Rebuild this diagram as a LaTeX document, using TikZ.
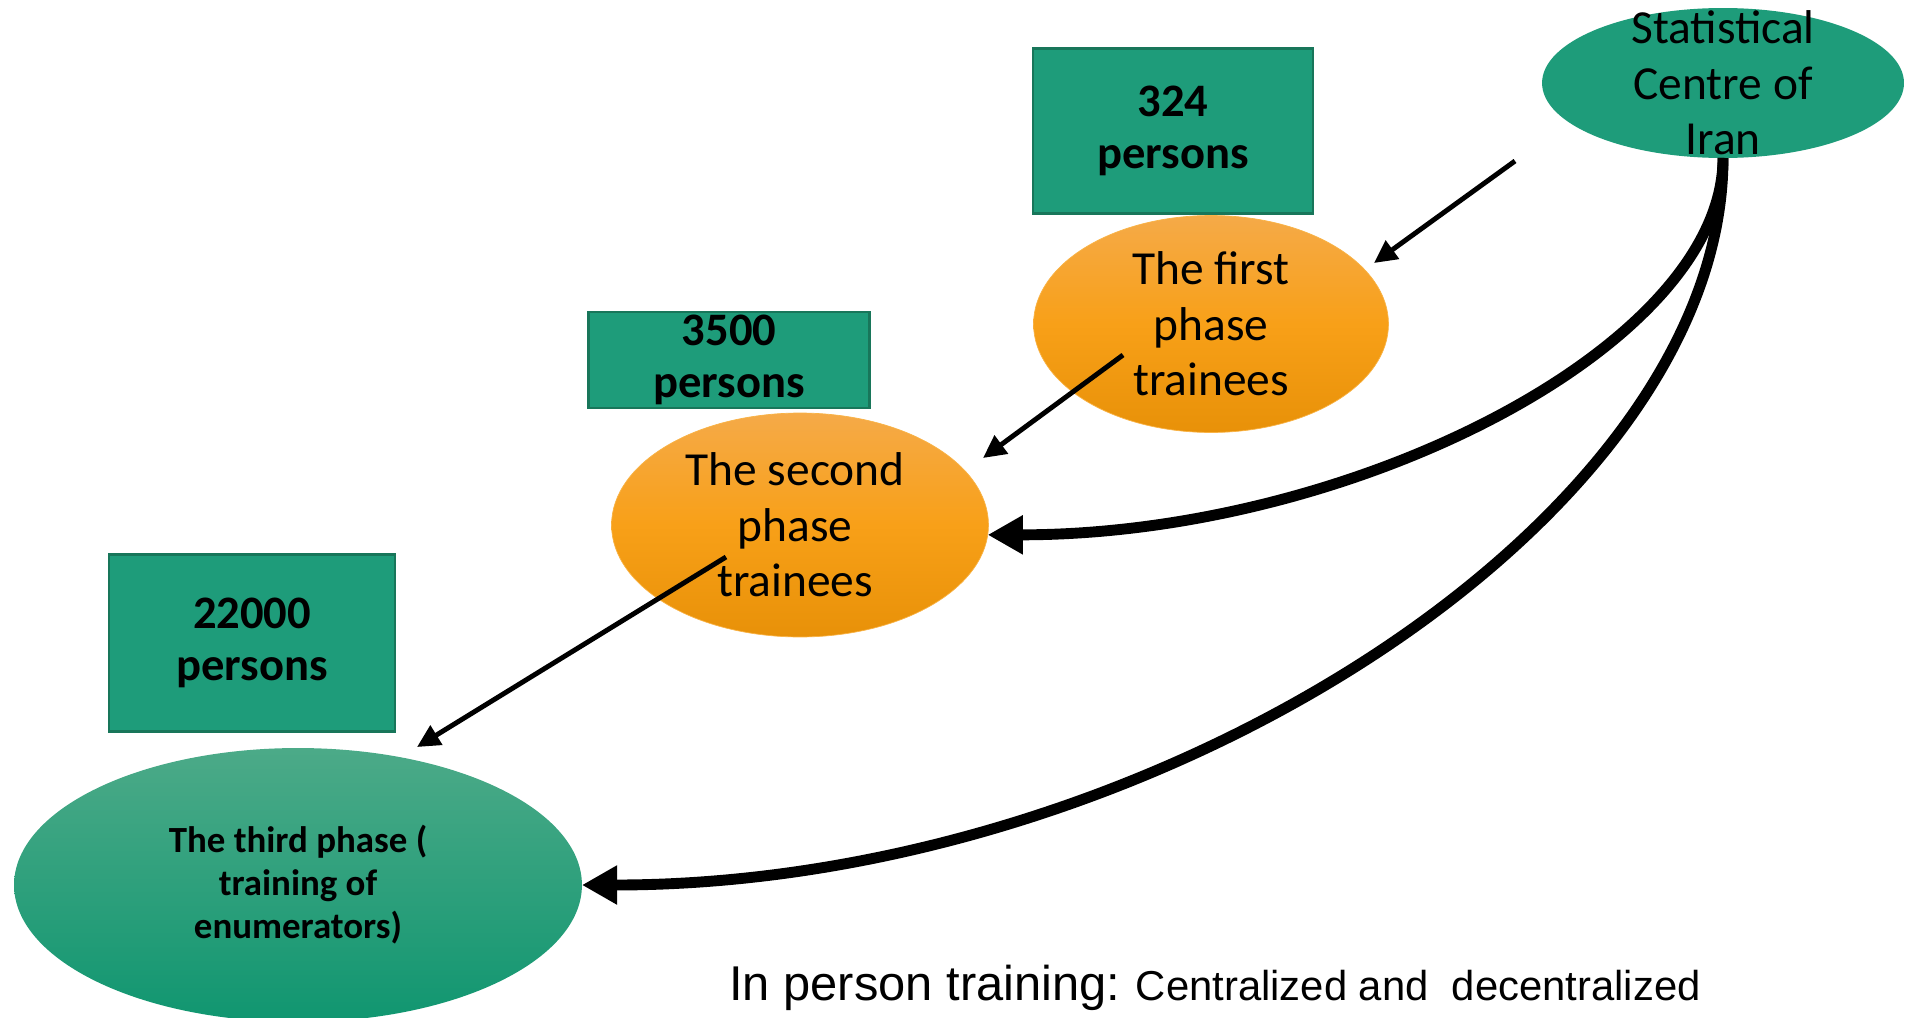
\documentclass[tikz,border=0pt]{standalone}
\usepackage{fontspec}
\setmainfont{Carlito}
\newfontfamily\arialfont{Liberation Sans}
\usetikzlibrary{arrows.meta,shapes.geometric}
\definecolor{tealfill}{RGB}{30,156,122}
\definecolor{tealline}{RGB}{24,118,90}
\definecolor{orangetop}{RGB}{245,170,72}
\definecolor{orangemid}{RGB}{248,160,24}
\definecolor{orangebot}{RGB}{232,145,8}
\definecolor{greentop}{RGB}{76,170,136}
\definecolor{greenbot}{RGB}{16,150,112}

\begin{document}
\begin{tikzpicture}[x=0.02cm,y=-0.02cm,
  countbox/.style = {rectangle,draw=tealline,fill=tealfill,line width=1.2pt,inner sep=0pt,outer sep=0pt,align=center,font=\bfseries\fontsize{26.5}{29.5}\selectfont},
  bubble/.style = {ellipse,inner sep=0pt,outer sep=0pt},
  phasebubble/.style = {bubble,draw=orangemid!80,top color=orangetop,bottom color=orangebot,middle color=orangemid},
  bubbletext/.style = {align=center,font=\fontsize{27}{31.6}\selectfont},
  thinarrow/.style = {line width=2.8pt,-{Triangle[length=13pt,width=12.5pt]}},
  thickarrow/.style = {line width=6.2pt,-{Triangle[length=20pt,width=21pt]}}]
\useasboundingbox (0,0) rectangle (1905,1017);

\node[countbox,minimum width=5.6cm,minimum height=3.3cm] (n324) at (1173,131) {324\\persons};
\node[countbox,minimum width=5.62cm,minimum height=1.92cm] (n3500) at (729,360) {3500\\persons};
\node[countbox,minimum width=5.72cm,minimum height=3.54cm] (n22000) at (252,643) {22000\\persons};

\node[bubble,fill=tealfill,minimum width=7.24cm,minimum height=3cm,
      label={[bubbletext]center:{Statistical\\Centre of\\Iran}}] (stat) at (1723,83) {};
\node[phasebubble,minimum width=7.1cm,minimum height=4.34cm,
      label={[bubbletext]center:{The first\\phase\\trainees}}] (first) at (1211,324) {};
\node[phasebubble,minimum width=7.54cm,minimum height=4.48cm,
      label={[bubbletext,xshift=-0.1cm]center:{The second\\phase\\trainees}}] (second) at (800,525) {};
\node[bubble,top color=greentop,bottom color=greenbot,minimum width=11.36cm,minimum height=5.48cm,
      label={[align=center,font=\bfseries\fontsize{21}{24.5}\selectfont]center:{The third phase (\\training of\\enumerators)}}] (third) at (298,885) {};

\foreach \xa/\ya/\xb/\yb [count=\k] in {1515/161/1374/263, 1123/355/983/458, 726/557/417/747} {
    \coordinate (tail\k) at (\xa,\ya);
    \coordinate (head\k) at (\xb,\yb);
    \draw[thinarrow] (tail\k) -- (head\k);
}
\draw[thickarrow] (stat.south) .. controls +(0,187) and +(366,0) .. (second.-3);
\draw[thickarrow] (stat.south) .. controls +(0,362) and +(570,0) .. (third.east);

\node[anchor=base west,inner sep=0pt,font=\arialfont] (note) at (729,1000)
    {\fontsize{27.8}{32}\selectfont In person training:\fontsize{23.8}{28}\selectfont{} Centralized and~~decentralized};
\end{tikzpicture}
\end{document}
